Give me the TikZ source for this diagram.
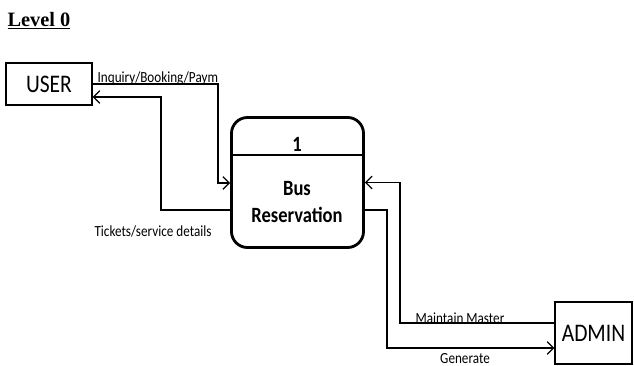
\documentclass[tikz,border=0pt]{standalone}
\usepackage{fontspec}
\setmainfont{Carlito}
\newfontfamily\titlefont{Liberation Serif}
\newfontfamily\dfdfont[FakeStretch=0.85]{Carlito}
\usetikzlibrary{arrows.meta}

\begin{document}
\begin{tikzpicture}[x=0.025cm, y=-0.025cm, >={Straight Barb[length=4.5pt, width=9pt]}, line width=0.9pt,
    entity/.style={draw, line width=0.8pt, minimum width=2.15cm, minimum height=1.05cm, font=\dfdfont\fontsize{18}{20}\selectfont},
    process/.style={draw, line width=2pt, rounded corners=0.4cm, minimum width=3.3cm, minimum height=3.25cm},
    ptext/.style={font=\dfdfont\bfseries\fontsize{15.5}{18}\selectfont, align=center},
    flowlabel/.style={font=\dfdfont\fontsize{11}{13}\selectfont, inner sep=0pt}]
    \useasboundingbox (0,0) rectangle (634,366);

    \node (title) at (39,21) {\titlefont\bfseries\fontsize{14.5}{16}\selectfont\underline{Level 0}};
    \node[entity] (user) at (49,84) {USER};
    \node[process] (proc) at (297.5,182.5) {};
    \node[ptext] (pnum) at (297,144) {1};
    \node[ptext] (pname) at (297,202) {Bus\\[1pt]Reservation};
    \node[entity, minimum width=1.925cm, minimum height=1.55cm] (admin) at (593.5,333) {ADMIN};

    \coordinate (div) at (0,155);
    \coordinate (inq) at (218,183);
    \coordinate (tk) at (161,210);
    \coordinate (tkup) at (161,97);
    \coordinate (mm) at (400,323);
    \coordinate (gen) at (387,210);
    \coordinate (gendown) at (387,348);

    \draw[line width=1pt] (div -| proc.west) -- (div -| proc.east);

    \draw[->] (user.east) -| (inq) -- (inq -| proc.west);
    \draw[->] (tk -| proc.west) -- (tk) -- (tkup) -- (tkup -| user.east);
    \draw[->] (mm -| admin.west) -- (mm) |- (proc.east);
    \draw[->] (gen -| proc.east) -- (gen) -- (gendown) -- (gendown -| admin.west);

    \node[flowlabel, anchor=south west] (inqlabel) at (97,86) {Inquiry/Booking/Paym};
    \node[flowlabel] (tklabel) at (153,231) {Tickets/service details};
    \node[flowlabel, anchor=south] (mmlabel) at (460,324) {Maintain Master};
    \node[flowlabel] (genlabel) at (465,359) {Generate};
\end{tikzpicture}
\end{document}
